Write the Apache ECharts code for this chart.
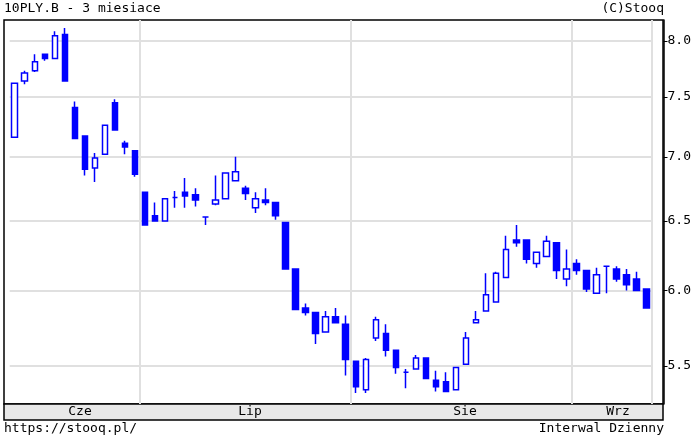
<!DOCTYPE html>
<html>
<head>
<meta charset="UTF-8">
<script src="https://cdn.jsdelivr.net/npm/echarts@6/dist/echarts.min.js"></script>
<style>html,body{margin:0;background:#fff}#c{width:694px;height:440px}</style>
</head>
<body>
<div id="c"></div>
<script>
// candle values: open, close, low, high
var opens  = [7.16,7.64,7.73,7.88,7.84,8.06,7.41,7.17,6.91,7.02,7.45,7.11,7.05,6.72,6.54,6.50,6.68,6.72,6.70,6.53,6.63,6.67,6.81,6.75,6.60,6.66,6.64,6.49,6.15,5.88,5.85,5.72,5.82,5.77,5.53,5.35,5.68,5.71,5.60,5.46,5.48,5.55,5.41,5.40,5.35,5.51,5.78,5.86,5.92,6.09,6.36,6.36,6.19,6.24,6.34,6.08,6.19,6.14,5.98,6.17,6.15,6.11,6.08,6.01];
var closes = [7.62,7.71,7.81,7.84,8.05,7.64,7.15,6.90,6.99,7.26,7.22,7.08,6.86,6.47,6.50,6.67,6.68,6.69,6.66,6.53,6.66,6.87,6.88,6.71,6.67,6.64,6.54,6.15,5.87,5.85,5.71,5.82,5.78,5.54,5.37,5.54,5.80,5.60,5.49,5.46,5.55,5.42,5.37,5.34,5.49,5.68,5.80,5.97,6.12,6.29,6.34,6.22,6.27,6.35,6.14,6.15,6.14,6.01,6.11,6.17,6.08,6.04,6.00,5.88];
var lows   = [7.16,7.61,7.72,7.82,7.84,7.64,7.15,6.85,6.80,7.02,7.22,7.02,6.84,6.47,6.50,6.50,6.60,6.60,6.61,6.47,6.62,6.67,6.81,6.66,6.56,6.62,6.51,6.15,5.87,5.83,5.64,5.72,5.78,5.44,5.33,5.33,5.66,5.56,5.45,5.36,5.48,5.42,5.34,5.34,5.35,5.51,5.78,5.86,5.92,6.09,6.31,6.19,6.16,6.24,6.08,6.03,6.11,5.99,5.98,5.98,6.06,6.00,6.00,5.88];
var highs  = [7.62,7.73,7.88,7.88,8.09,8.12,7.46,7.17,7.03,7.26,7.48,7.13,7.05,6.72,6.64,6.67,6.73,6.83,6.75,6.53,6.85,6.87,7.00,6.77,6.72,6.75,6.64,6.49,6.15,5.91,5.85,5.86,5.88,5.83,5.53,5.55,5.82,5.77,5.60,5.48,5.57,5.55,5.47,5.46,5.49,5.72,5.86,6.12,6.13,6.39,6.47,6.36,6.27,6.39,6.34,6.29,6.22,6.14,6.16,6.17,6.17,6.15,6.13,6.01];
var priceTicks = [5.5,6.0,6.5,7.0,7.5,8.0];
var monthLabels = ['Cze','Lip','Sie','Wrz'];
var monthStarts = [13,34,56];      // candle index where a new month begins
var monthCenters = [80,250,465,618];

var chart = echarts.init(document.getElementById('c'));
var mono = 'DejaVu Sans Mono';
var days = opens.map(function (v, i) { return String(i + 1); });
var candles = opens.map(function (v, i) {
    return [Math.log(v), Math.log(closes[i]), Math.log(lows[i]), Math.log(highs[i])];
});
var logTicks = priceTicks.map(function (v) { return Math.log(v); });

var graphics = [
    {type:'rect', z:-1, shape:{x:4,y:20,width:659,height:384}, style:{fill:'none',stroke:'#000',lineWidth:1.5}},
    {type:'rect', shape:{x:4,y:404,width:659,height:16}, style:{fill:'#e8e8e8',stroke:'#000',lineWidth:1.5}},
    {type:'text', left:4, top:2, style:{text:'10PLY.B - 3 miesiace', font:'13px '+mono, fill:'#000'}},
    {type:'text', right:30, top:2, style:{text:'(C)Stooq', font:'13px '+mono, fill:'#000'}},
    {type:'text', left:4, top:422, style:{text:'https://stooq.pl/', font:'13px '+mono, fill:'#000'}},
    {type:'text', right:30, top:422, style:{text:'Interwal Dzienny', font:'13px '+mono, fill:'#000'}}
];
monthLabels.forEach(function (m, i) {
    graphics.push({type:'text', x:monthCenters[i], y:405,
        style:{text:m, font:'13px '+mono, fill:'#000', align:'center'}});
});

chart.setOption({
    animation: false,
    grid: {left: 9.7, right: 42.3, top: 20, bottom: 36},
    xAxis: {
        type: 'category',
        data: days,
        axisLine: {show: false},
        axisTick: {show: false},
        axisLabel: {show: false},
        splitLine: {
            show: true,
            interval: function (idx) { return monthStarts.indexOf(idx) >= 0; },
            lineStyle: {color: '#e0e0e0', width: 2}
        }
    },
    yAxis: {
        type: 'value',
        position: 'right',
        offset: 11.8,
        min: 1.6608,
        max: 2.1037,
        axisLine: {show: true, lineStyle: {color: '#000', width: 1.5}},
        axisTick: {show: true, length: 4, customValues: logTicks, lineStyle: {color: '#000'}},
        axisLabel: {
            customValues: logTicks,
            margin: 4,
            fontFamily: mono,
            fontSize: 13,
            color: '#000',
            formatter: function (v) { return Math.exp(v).toFixed(1); }
        },
        splitLine: {show: true, lineStyle: {color: '#e0e0e0', width: 2}}
    },
    graphic: graphics,
    series: [{
        type: 'candlestick',
        data: candles,
        barWidth: 6,
        itemStyle: {
            color: '#ffffff',
            borderColor: '#0000ff',
            color0: '#0000ff',
            borderColor0: '#0000ff',
            borderWidth: 1.5
        }
    }]
});
</script>
</body>
</html>
